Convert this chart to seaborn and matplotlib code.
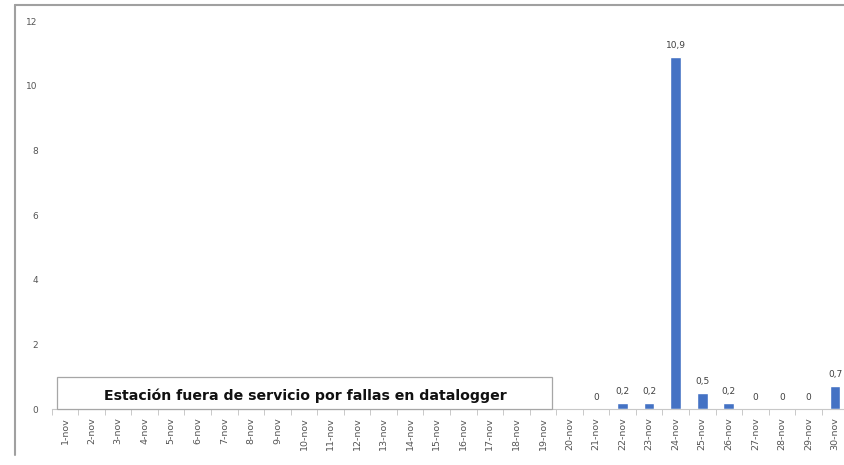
import numpy as np
import pandas as pd
import seaborn as sns
from matplotlib import pyplot as plt
from matplotlib.lines import Line2D
from matplotlib.patches import Rectangle

days = [f'{d}-nov' for d in range(1, 31)]
# dias 1-20 sin dato (estacion fuera de servicio)
values = [np.nan] * 20 + [0, 0.2, 0.2, 10.9, 0.5, 0.2, 0, 0, 0, 0.7]
note = 'Estación fuera de servicio por fallas en datalogger'

df = pd.DataFrame({'dia': days, 'valor': values})

sns.set_style('white')
fig = plt.figure(figsize=(8.45, 4.65), dpi=100)
ax = fig.add_axes([0.0612, 0.1204, 0.9427, 0.8344])

sns.barplot(data=df, x='dia', y='valor', color='#4472c4', width=0.4,
            saturation=1, ax=ax)

ax.set_ylim(0, 12)
ax.set_xlim(-0.5, 29.5)
ax.set_yticks(range(0, 13, 2))
ax.set_xlabel('')
ax.set_ylabel('')
for s in ['top', 'right', 'left']:
    ax.spines[s].set_visible(False)
ax.spines['bottom'].set_color('#c8c8c8')
ax.tick_params(axis='y', length=0, labelsize=6.5, labelcolor='#555555', pad=10)
ax.tick_params(axis='x', length=0, labelsize=6.8, labelcolor='#555555',
               rotation=90, pad=6)
ax.set_xticks(np.arange(-0.5, 30, 1), minor=True)
ax.tick_params(axis='x', which='minor', length=4, color='#c0c0c0', bottom=True)

# etiquetas de datos
for i, v in enumerate(values):
    if np.isnan(v):
        continue
    txt = f'{v:g}'.replace('.', ',')
    ax.annotate(txt, (i, v), xytext=(0, 5), textcoords='offset points',
                ha='center', va='bottom', fontsize=6.5, color='#404040')

# recuadro de nota
box = Rectangle((57 / 845, (465 - 409) / 465), (552 - 57) / 845, 32 / 465,
                transform=fig.transFigure, facecolor='white',
                edgecolor='#a6a6a6', lw=0.9, zorder=5)
fig.add_artist(box)
fig.text(305 / 845, (465 - 396) / 465, note, ha='center', va='center',
         fontsize=10.2, fontweight='bold', color='#111111', zorder=6)

# marco exterior
fig.add_artist(Line2D([15 / 845, 15 / 845], [10 / 465, 460 / 465],
                      transform=fig.transFigure, color='#a0a0a0', lw=1.5))
fig.add_artist(Line2D([15 / 845, 1], [460 / 465, 460 / 465],
                      transform=fig.transFigure, color='#a0a0a0', lw=1.5))

fig.savefig('out.png', dpi=100)
